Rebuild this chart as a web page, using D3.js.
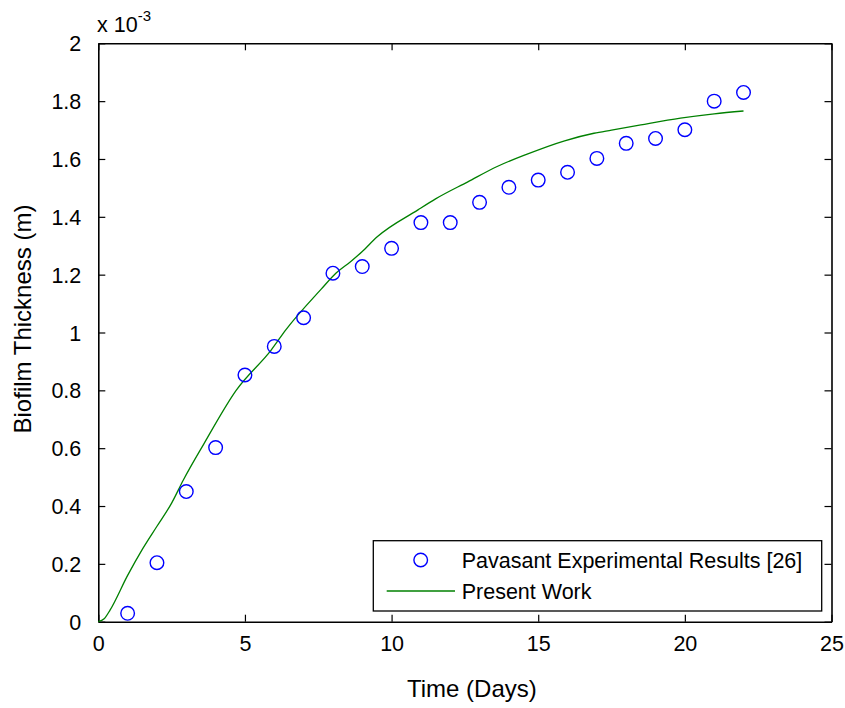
<!DOCTYPE html>
<html>
<head>
<meta charset="utf-8">
<script src="https://cdn.jsdelivr.net/npm/d3@7"></script>
<style>
  html, body { margin: 0; padding: 0; background: #fff; }
  svg { display: block; font-family: "Liberation Sans", Arial, Helvetica, sans-serif; }
</style>
</head>
<body>
<svg id="chart" width="845" height="708"></svg>
<script>
// ---- Data (values in units of 1e-3 m) ----
const expDays = [1, 2, 3, 4, 5, 6, 7, 8, 9, 10, 11, 12, 13, 14, 15, 16, 17, 18, 19, 20, 21, 22];
const expThickness = [0.029, 0.204, 0.450, 0.602, 0.853, 0.952, 1.051, 1.205, 1.228, 1.291, 1.380, 1.380,
                      1.450, 1.502, 1.527, 1.554, 1.602, 1.654, 1.671, 1.701, 1.800, 1.830];
const modelDays = [0, 0.2, 0.4, 1.0, 1.5, 2.0, 2.5, 2.9, 3.6, 4.7, 5.9, 6.4, 7.6, 8.1, 8.6, 9.0, 9.5,
                   10.9, 11.5, 12.6, 13.6, 14.6, 15.9, 16.9, 17.5, 18.5, 19.85, 21, 22];
const modelThickness = [0, 0.01, 0.04, 0.16, 0.25, 0.33, 0.41, 0.49, 0.615, 0.80, 0.94, 1.01, 1.15, 1.205,
                        1.245, 1.28, 1.33, 1.424, 1.462, 1.521, 1.574, 1.616, 1.663, 1.689, 1.700, 1.718,
                        1.741, 1.756, 1.766];
const xTicks = [0, 5, 10, 15, 20, 25];
const yTicks = [0, 0.2, 0.4, 0.6, 0.8, 1, 1.2, 1.4, 1.6, 1.8, 2];
const legendLabels = ["Pavasant Experimental Results [26]", "Present Work"];
const xLabel = "Time (Days)";
const yLabel = "Biofilm Thickness (m)";

// ---- Layout ----
const svg = d3.select("#chart");
const L = 98.3, R = 831.5, T = 43.3, B = 621.7;
const x = d3.scaleLinear().domain([0, 25]).range([L, R]);
const y = d3.scaleLinear().domain([0, 2]).range([B, T]);
const tickLen = 7;
const tickFont = 21.5;

const fmt = d => (d === 0 ? "0" : (Number.isInteger(d) ? String(d) : d.toFixed(1)));

// Axes (inward ticks) - bottom / left with labels, top / right mirrored without labels
const gx = svg.append("g").attr("transform", `translate(0,${B})`)
  .call(d3.axisBottom(x).tickValues(xTicks).tickFormat(fmt).tickSizeInner(-tickLen).tickSizeOuter(0).tickPadding(14));
const gy = svg.append("g").attr("transform", `translate(${L},0)`)
  .call(d3.axisLeft(y).tickValues(yTicks).tickFormat(fmt).tickSizeInner(-tickLen).tickSizeOuter(0).tickPadding(17));
const gxt = svg.append("g").attr("transform", `translate(0,${T})`)
  .call(d3.axisTop(x).tickValues(xTicks).tickFormat("").tickSizeInner(-tickLen).tickSizeOuter(0));
const gyr = svg.append("g").attr("transform", `translate(${R},0)`)
  .call(d3.axisRight(y).tickValues(yTicks).tickFormat("").tickSizeInner(-tickLen).tickSizeOuter(0));

[gx, gy, gxt, gyr].forEach(g => {
  g.select(".domain").attr("stroke", "#000").attr("stroke-width", 1.6);
  g.selectAll(".tick line").attr("stroke", "#000").attr("stroke-width", 1.2);
  g.selectAll("text").attr("fill", "#000").attr("font-size", tickFont)
    .attr("font-family", "'Liberation Sans', Arial, sans-serif");
});
gx.selectAll("text").attr("dy", "0.71em");
gy.selectAll("text").attr("dy", "0.35em");

// Exponent label
const expo = svg.append("text").attr("x", 97).attr("y", 32)
  .attr("font-size", tickFont).attr("fill", "#000");
expo.append("tspan").text("x 10");
expo.append("tspan").attr("dy", -11).attr("font-size", 15).text("-3");

// Model line
const line = d3.line().curve(d3.curveMonotoneX).x((d, i) => x(modelDays[i])).y(d => y(d));
svg.append("path").datum(modelThickness)
  .attr("d", line).attr("fill", "none").attr("stroke", "#008000").attr("stroke-width", 1.3);

// Experimental circles
svg.append("g").selectAll("circle").data(expThickness).join("circle")
  .attr("cx", (d, i) => x(expDays[i])).attr("cy", d => y(d)).attr("r", 6.8)
  .attr("fill", "none").attr("stroke", "#0000ff").attr("stroke-width", 1.4);

// Axis labels
svg.append("text").attr("x", (L + R) / 2 + 7).attr("y", 697).attr("text-anchor", "middle")
  .attr("font-size", 24).attr("fill", "#000").text(xLabel);
svg.append("text").attr("transform", `translate(31,${319}) rotate(-90)`).attr("text-anchor", "middle")
  .attr("font-size", 24).attr("fill", "#000").text(yLabel);

// Legend
const lg = svg.append("g");
lg.append("rect").attr("x", 373.3).attr("y", 540.7).attr("width", 448.4).attr("height", 70.3)
  .attr("fill", "#fff").attr("stroke", "#000").attr("stroke-width", 1.3);
lg.append("circle").attr("cx", 420.7).attr("cy", 560).attr("r", 6.8)
  .attr("fill", "none").attr("stroke", "#0000ff").attr("stroke-width", 1.4);
lg.append("line").attr("x1", 386.7).attr("x2", 455).attr("y1", 591).attr("y2", 591)
  .attr("stroke", "#008000").attr("stroke-width", 1.3);
lg.selectAll("text.leg").data(legendLabels).join("text").attr("class", "leg")
  .attr("x", 461.7).attr("y", (d, i) => [560, 591][i]).attr("dy", "0.35em")
  .attr("font-size", tickFont).attr("fill", "#000").text(d => d);
</script>
</body>
</html>
